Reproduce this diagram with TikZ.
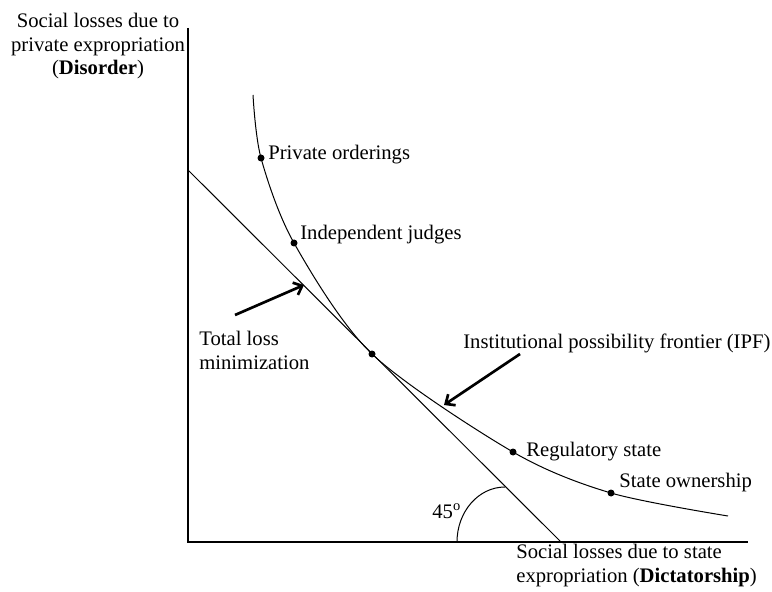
\documentclass[tikz,border=0pt]{standalone}
\usepackage{fontspec}
\setmainfont{Liberation Serif}
\usetikzlibrary{arrows.meta,
                positioning}

\begin{document}
\begin{tikzpicture}[x=0.6pt, y=0.6pt, font=\fontsize{12.4}{14}\selectfont]

\useasboundingbox (0,0) rectangle (772,591);

% axes
\coordinate (O) at (188,49);
\coordinate (ytop) at (188,563);
\coordinate (xend) at (748,49);
\draw[line width=1.1pt] (ytop) -- (O) -- (xend);

\node[anchor=north, align=center, inner sep=0] (ylab) at (98,578) {Social losses due to\\private expropriation\\(\textbf{Disorder})};
\node[anchor=north west, align=left, inner sep=0] (xlab) at (516,47) {Social losses due to state\\expropriation (\textbf{Dictatorship})};

% 45 degree line and angle
\coordinate (A) at (188,421);
\coordinate (B) at (561,49);
\coordinate (arcstart) at (457,49);
\draw[line width=0.6pt] (A) -- (B);
\draw[line width=0.6pt] (arcstart) arc[start angle=180, end angle=90, x radius=48, y radius=55];
\node[anchor=base west, inner sep=0] (deg) at (432,73) {45\textsuperscript{o}};

\begin{scope}[dot/.style = {circle, fill, inner sep=0, minimum size=4.2pt},
              lab/.style = {anchor=base west, inner sep=0}]
    \coordinate (c0) at (253,496);
    \coordinate (po) at (261,433);
    \coordinate (ij) at (294,348);
    \coordinate (tp) at (372,237);
    \coordinate (rs) at (513,139);
    \coordinate (so) at (611,98);
    \coordinate (c6) at (728,75);

    \draw[line width=0.6pt] plot[smooth] coordinates {(c0) (po) (ij) (tp) (rs) (so) (c6)};

    \node[dot] (1) at (po) {};
    \node[dot] (2) at (ij) {};
    \node[dot] (3) at (tp) {};
    \node[dot] (4) at (rs) {};
    \node[dot] (5) at (so) {};

    \node[lab] (l1) at (268,431) {Private orderings};
    \node[lab] (l2) at (300,351) {Independent judges};
    \node[lab] (l4) at (526,135) {Regulatory state};
    \node[lab] (l5) at (619,104) {State ownership};
\end{scope}

% pointers
\begin{scope}[arr/.style = {line width=1.6pt, -{Straight Barb[length=4.5pt, width=8pt]}}]
    \coordinate (tlfrom) at (235,276);
    \coordinate (tlto) at (304,306);
    \coordinate (ipffrom) at (520,237);
    \coordinate (ipfto) at (444,186);
    \draw[arr] (tlfrom) -- (tlto);
    \draw[arr] (ipffrom) -- (ipfto);
    \node[anchor=north west, align=left, inner sep=0] (tlm) at (199,260) {Total loss\\minimization};
    \node[anchor=base west, inner sep=0] (ipf) at (463,243) {Institutional possibility frontier (IPF)};
\end{scope}

\end{tikzpicture}
\end{document}
